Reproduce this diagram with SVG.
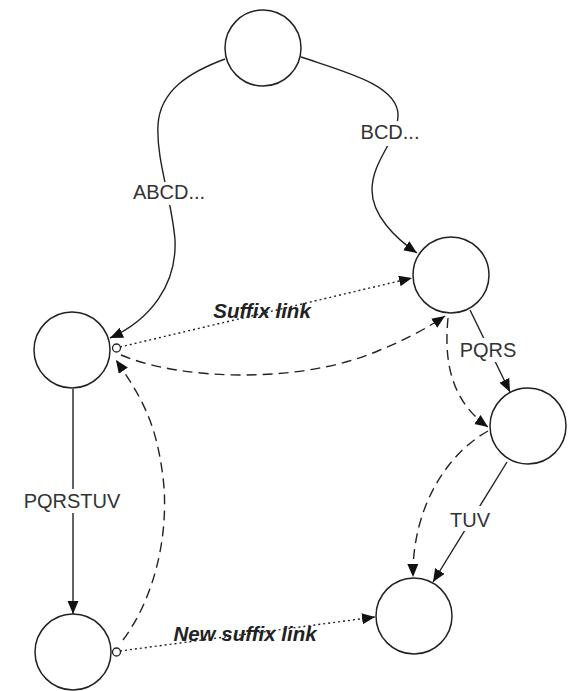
<svg xmlns="http://www.w3.org/2000/svg" width="572" height="691" viewBox="0 0 572 691">
  <defs>
    <marker id="arrow" markerUnits="userSpaceOnUse" markerWidth="14" markerHeight="12" refX="13" refY="5.5" orient="auto">
      <path d="M0,0 L13,5.5 L0,11 z" fill="#111"/>
    </marker>
    <style>
      .node { fill: #fff; stroke: #222; stroke-width: 1.5; }
      .edge { fill: none; stroke: #222; stroke-width: 1.4; }
      .solid { marker-end: url(#arrow); }
      .dashed { stroke-dasharray: 10 6; marker-end: url(#arrow); }
      .dotted { stroke-dasharray: 2 3; marker-end: url(#arrow); }
      .tail { fill: #fff; stroke: #222; stroke-width: 1.3; }
      .lbl { font-family: "Liberation Sans", Arial, sans-serif; font-size: 20px; fill: #333; text-anchor: middle; }
      .link { font-family: "Liberation Sans", Arial, sans-serif; font-size: 20.5px; font-weight: bold; font-style: italic; fill: #222; text-anchor: middle; }
      .bg { fill: #fff; }
    </style>
  </defs>

  <!-- connectors -->
  <g id="connectors">
    <!-- tree edges -->
    <path class="edge solid" d="M225,59 C190,72 160,90 158,125 C156,160 172,200 175,240 C177,285 150,320 110,338"/>
    <path class="edge solid" d="M301,57 C345,72 398,85 398,115 C398,140 372,160 372,190 C372,215 395,238 417,253"/>
    <path class="edge solid" d="M73,389 L73,614"/>
    <path class="edge solid" d="M470,310 L510,392"/>
    <path class="edge solid" d="M507,462 L433,582"/>

    <!-- traversal path -->
    <path class="edge dashed" d="M123,640 C160,590 170,520 162,470 C155,420 140,395 116,360"/>
    <path class="edge dashed" d="M121,355 C180,380 300,385 380,350 C410,338 430,326 445,316"/>
    <path class="edge dashed" d="M448,318 C444,360 450,400 488,427"/>
    <path class="edge dashed" d="M488,431 C445,455 412,510 413,577"/>

    <!-- suffix links -->
    <path class="edge dotted" d="M120,347 L412,278"/>
    <path class="edge dotted" d="M120,651 L375,617"/>
    <circle class="tail" cx="116.5" cy="348" r="4"/>
    <circle class="tail" cx="116.5" cy="652" r="4"/>

    <!-- labels -->
    <rect class="bg" x="130" y="182" width="78" height="23"/>
    <text class="lbl" x="169" y="199">ABCD...</text>
    <rect class="bg" x="355" y="121" width="70" height="25"/>
    <text class="lbl" x="390" y="139">BCD...</text>
    <rect class="bg" x="19" y="489" width="106" height="24"/>
    <text class="lbl" x="72" y="508">PQRSTUV</text>
    <rect class="bg" x="457" y="338" width="63" height="24"/>
    <text class="lbl" x="488" y="357">PQRS</text>
    <rect class="bg" x="448" y="506" width="45" height="25"/>
    <text class="lbl" x="470" y="527">TUV</text>
    <text class="link" x="262" y="318">Suffix link</text>
    <text class="link" x="245" y="641">New suffix link</text>
  </g>

  <!-- nodes -->
  <g id="root"><circle class="node" cx="263" cy="48" r="38"/></g>
  <g id="node-a"><circle class="node" cx="72" cy="350" r="38"/></g>
  <g id="node-b"><circle class="node" cx="451" cy="275" r="38"/></g>
  <g id="node-bp"><circle class="node" cx="528" cy="426" r="38"/></g>
  <g id="node-ap"><circle class="node" cx="73" cy="652" r="38"/></g>
  <g id="node-bt"><circle class="node" cx="414" cy="616" r="38"/></g>
</svg>
